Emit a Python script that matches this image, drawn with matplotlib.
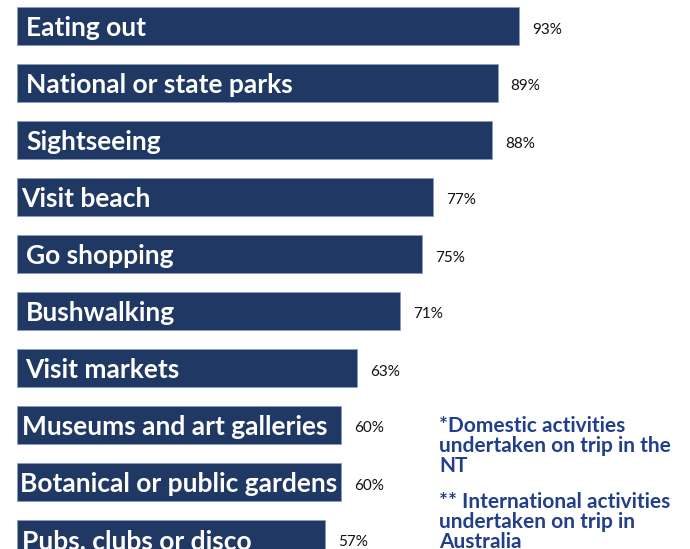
import matplotlib
matplotlib.use("Agg")
import matplotlib.pyplot as plt

activities = ["Eating out", "National or state parks", "Sightseeing", "Visit beach",
              "Go shopping", "Bushwalking", "Visit markets", "Museums and art galleries",
              "Botanical or public gardens", "Pubs, clubs or disco"]
values = [93, 89, 88, 77, 75, 71, 63, 60, 60, 57]
value_labels = ["93%", "89%", "88%", "77%", "75%", "71%", "63%", "60%", "60%", "57%"]
note_domestic = "*Domestic activities\nundertaken on trip in the\nNT"
note_international = "** International activities\nundertaken on trip in\nAustralia"

# label inset inside each bar (pixels) - style only
label_inset_px = [9, 9, 9, 4, 9, 9, 8, 5, 3, 5]

BAR = "#203864"
NOTE = "#213F8A"

fig = plt.figure(figsize=(6.9, 5.49), dpi=100)
ax = fig.add_axes([0, 0, 1, 1])
W, H = 690, 549
px = 5.4  # pixels per percent
x0 = 17
ax.set_xlim(-x0 / px, (W - x0) / px)
top_c, step = 26, 57
ax.set_ylim((H - top_c) / step, -top_c / step)
ax.axis("off")

P2PT = 72 / 100
ypos = list(range(len(activities)))
ax.barh(ypos, values, height=38 / step, color=BAR, edgecolor="#8a9cc0", linewidth=0.6)

for y, v, lab, vl, ins in zip(ypos, values, activities, value_labels, label_inset_px):
    ax.annotate(lab, (0, y), xytext=(ins * P2PT, -10 * P2PT), textcoords="offset points",
                ha="left", va="baseline", color="white", fontsize=19,
                fontweight="bold", family="Lato")
    ax.annotate(vl, (v, y), xytext=(13 * P2PT, -7.5 * P2PT), textcoords="offset points",
                ha="left", va="baseline", color="#111111", fontsize=11, family="Lato")

# va='baseline' on multi-line text aligns the last line's baseline
fig.text(439 / W, 1 - 472 / H, note_domestic, ha="left", va="baseline", color=NOTE,
         fontsize=15, fontweight="bold", family="Lato", linespacing=1.0,
         multialignment="left")
fig.text(439 / W, 1 - 548 / H, note_international, ha="left", va="baseline", color=NOTE,
         fontsize=15, fontweight="bold", family="Lato", linespacing=1.0,
         multialignment="left")

fig.savefig("out.png", dpi=100, facecolor="white")
